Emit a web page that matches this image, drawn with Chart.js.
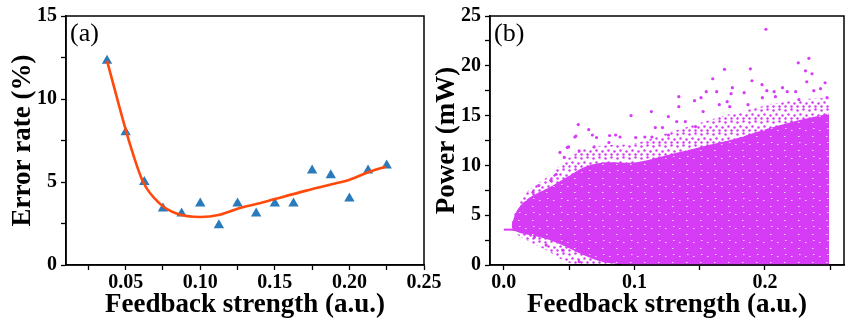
<!DOCTYPE html>
<html>
<head>
<meta charset="utf-8">
<script src="https://cdn.jsdelivr.net/npm/chart.js@4.4.1/dist/chart.umd.min.js"></script>
<style>
  html, body { margin: 0; padding: 0; background: #fff; }
  #wrap { position: relative; width: 848px; height: 322px; overflow: hidden; }
  #chartA { position: absolute; left: 0; top: 0; width: 460px; height: 322px; }
  #chartB { position: absolute; left: 424px; top: 0; width: 424px; height: 322px; }
</style>
</head>
<body>
<div id="wrap">
  <canvas id="chartA" width="460" height="322"></canvas>
  <canvas id="chartB" width="424" height="322"></canvas>
</div>
<script>
// ---- Datos panel (a): tasa de error ----
const fuerzaA = [0.0375, 0.05, 0.0625, 0.075, 0.0875, 0.1, 0.1125, 0.125, 0.1375, 0.15, 0.1625, 0.175, 0.1875, 0.2, 0.2125, 0.225];
const errorA  = [12.3, 8.0, 5.0, 3.4, 3.1, 3.7, 2.4, 3.7, 3.1, 3.7, 3.7, 5.7, 5.4, 4.0, 5.7, 6.0];
// curva de ajuste
const ajusteX = [0.0375, 0.0528, 0.0617, 0.0729, 0.0841, 0.1, 0.1131, 0.1265, 0.1399, 0.1488, 0.1711, 0.189, 0.2001, 0.2113, 0.2246];
const ajusteY = [12.3, 7.3, 5.0, 3.7, 3.1, 2.89, 3.03, 3.43, 3.72, 3.94, 4.48, 4.88, 5.14, 5.54, 5.94];

// ticks panel (a)
const majorXA = [0.05, 0.10, 0.15, 0.20, 0.25];
const labelsXA = ['0.05', '0.10', '0.15', '0.20', '0.25'];
const minorXA = [0.025, 0.075, 0.125, 0.175, 0.225];
const majorYA = [0, 5, 10, 15];
const labelsYA = ['0', '5', '10', '15'];
const minorYA = [2.5, 7.5, 12.5];

// ---- Datos panel (b): potencia ----
const colaX = [0, 0.012];
const colaY = [3.55, 3.55];
const bandaX    = [0.006, 0.009, 0.013, 0.02, 0.035, 0.048, 0.061, 0.076, 0.1, 0.124, 0.149, 0.175, 0.2, 0.225, 0.249];
const densoSup  = [4.0, 5.2, 6.0, 6.8, 7.8, 8.8, 9.8, 10.3, 10.3, 11.0, 11.8, 12.6, 13.6, 14.5, 15.2];
const densoInf  = [3.5, 3.4, 3.2, 3.0, 2.5, 1.8, 1.0, 0.3, 0, 0, 0, 0, 0, 0, 0];
const dispSup   = [4.2, 5.6, 6.6, 7.6, 9.0, 10.6, 11.6, 12.0, 12.2, 13.2, 14.2, 15.2, 16.0, 16.6, 16.8];
const dispInf   = [3.5, 3.2, 2.8, 2.3, 1.3, 0.3, 0, 0, 0, 0, 0, 0, 0, 0, 0];
const sueltosX = [0.2007, 0.2336, 0.2255, 0.169, 0.1888, 0.16, 0.19, 0.236, 0.231, 0.246, 0.1977, 0.134, 0.134, 0.113,
  0.151, 0.155, 0.163, 0.146, 0.175, 0.174, 0.184, 0.2014, 0.207, 0.2134, 0.217, 0.2235, 0.232, 0.2425, 0.2374,
  0.126, 0.1324, 0.1526, 0.165, 0.171, 0.173, 0.187, 0.198, 0.208, 0.2475, 0.226, 0.139, 0.1468, 0.116, 0.1215,
  0.0974, 0.081, 0.065, 0.057, 0.0544, 0.071, 0.089, 0.101, 0.108, 0.0486, 0.043, 0.0552, 0.0678, 0.0496, 0.0691,
  0.0268, 0.0223, 0.0805, 0.0856, 0.1134, 0.126, 0.0463, 0.0577, 0.04, 0.036, 0.0235, 0.0324, 0.045, 0.0577];
const sueltosY = [23.67, 20.75, 20.3, 19.65, 19.7, 18.7, 18.5, 19.2, 19.5, 18.3, 18.1, 16.9, 15.9, 15.4,
  16.8, 17.4, 17.4, 16.5, 17.8, 17.2, 17.3, 17.5, 17.4, 17.8, 17.4, 17.4, 18.4, 17.7, 17.5,
  14.9, 14.4, 15.4, 16.1, 16.4, 15.9, 16.1, 16.8, 16.9, 16.8, 16.6, 14.4, 13.9, 13.8, 13.8,
  15.0, 13.0, 13.6, 14.1, 12.85, 12.8, 12.85, 12.8, 12.85, 11.8, 11.3, 12.95, 13.05, 11.85, 11.85,
  7.97, 7.3, 12.3, 13.05, 12.85, 13.05, 10.8, 11.45, 9.1, 8.5, 2.8, 2.0, 1.5, 0.33];

// ticks panel (b)
const majorXB = [0.0, 0.1, 0.2];
const labelsXB = ['0.0', '0.1', '0.2'];
const minorXB = [0.05, 0.15, 0.25];
const majorYB = [0, 5, 10, 15, 20, 25];
const labelsYB = ['0', '5', '10', '15', '20', '25'];
const minorYB = [2.5, 7.5, 12.5, 17.5, 22.5];

// ---- Estilos ----
const FUENTE = "'Liberation Serif', 'Times New Roman', serif";
const azul = '#2a7bbb';
const naranja = '#ff4a0c';
const magenta = '#d63bf5';

const puntos = (xs, ys) => xs.map((x, i) => ({ x: x, y: ys[i] }));

const etiqueta = (mayores, textos) => (v) => {
  const i = mayores.findIndex(m => Math.abs(m - v) < 1e-6);
  return i >= 0 ? textos[i] : '';
};

// Texturas para imitar la nube de puntos (solo estilo de relleno)
const texturaDispersa = () => {
  const c = document.createElement('canvas');
  c.width = 12; c.height = 12;
  const g = c.getContext('2d');
  g.fillStyle = magenta;
  [[1, 2], [7, 1], [4, 6], [10, 7], [1, 10], [7, 10]].forEach(([px, py]) => {
    g.beginPath(); g.arc(px + 0.5, py + 0.5, 1.25, 0, Math.PI * 2); g.fill();
  });
  return g.createPattern(c, 'repeat');
};

const texturaDensa = () => {
  const c = document.createElement('canvas');
  c.width = 14; c.height = 14;
  const g = c.getContext('2d');
  g.fillStyle = magenta;
  g.fillRect(0, 0, 14, 14);
  g.fillStyle = '#f4dcfb';
  [[3, 4], [10, 10], [11, 2]].forEach(([px, py]) => g.fillRect(px, py, 1.5, 1));
  return g.createPattern(c, 'repeat');
};

const ejeX = (min, max, mayores, textos, menores, titulo) => ({
  type: 'linear',
  min: min,
  max: max,
  afterBuildTicks: (s) => { s.ticks = mayores.concat(menores).sort((a, b) => a - b).map(v => ({ value: v })); },
  afterFit: (s) => { s.height = 57; },
  ticks: {
    callback: etiqueta(mayores, textos),
    font: { family: FUENTE, size: 20, weight: 'bold' },
    color: '#000',
    padding: 1,
    maxRotation: 0,
    autoSkip: false
  },
  grid: { drawOnChartArea: false, tickLength: 5, tickColor: '#000', tickWidth: 1.3 },
  border: { color: '#000', width: 1.5 },
  title: {
    display: true,
    text: titulo,
    font: { family: FUENTE, size: 27, weight: 'bold' },
    color: '#000',
    padding: { top: 0, bottom: 1 }
  }
});

const ejeY = (min, max, mayores, textos, menores, titulo) => ({
  type: 'linear',
  min: min,
  max: max,
  afterBuildTicks: (s) => { s.ticks = mayores.concat(menores).sort((a, b) => a - b).map(v => ({ value: v })); },
  afterFit: (s) => { s.width = 66; },
  ticks: {
    callback: etiqueta(mayores, textos),
    font: { family: FUENTE, size: 20, weight: 'bold' },
    color: '#000',
    padding: 4,
    autoSkip: false
  },
  grid: { drawOnChartArea: false, tickLength: 5, tickColor: '#000', tickWidth: 1.3 },
  border: { color: '#000', width: 1.5 },
  title: {
    display: true,
    text: titulo,
    font: { family: FUENTE, size: 27, weight: 'bold' },
    color: '#000',
    padding: { top: 7, bottom: 0 }
  }
});

// Marco del area de trazado y rotulo del panel
const marcoPlugin = {
  id: 'marco',
  afterDatasetsDraw(chart, args, opts) {
    const { ctx, chartArea: { left, top, right, bottom } } = chart;
    ctx.save();
    ctx.strokeStyle = '#000';
    ctx.lineWidth = 1.5;
    ctx.strokeRect(left, top, right - left, bottom - top);
    ctx.fillStyle = '#000';
    ctx.font = '26px ' + FUENTE;
    ctx.textBaseline = 'top';
    ctx.fillText(opts.rotulo, left + 4, top + 5);
    ctx.restore();
  }
};

Chart.defaults.animation = false;

// Grafica (a)
new Chart(document.getElementById('chartA'), {
  type: 'scatter',
  data: {
    datasets: [{
      type: 'line',
      data: puntos(ajusteX, ajusteY),
      borderColor: naranja,
      borderWidth: 2.6,
      pointRadius: 0,
      cubicInterpolationMode: 'monotone',
      fill: false,
      order: 0
    }, {
      data: puntos(fuerzaA, errorA),
      pointStyle: 'triangle',
      pointRadius: 6,
      backgroundColor: azul,
      borderWidth: 0,
      order: 1
    }]
  },
  options: {
    responsive: false,
    layout: { padding: { top: 14, right: 36, left: 0, bottom: 0 } },
    plugins: { legend: { display: false }, tooltip: { enabled: false }, marco: { rotulo: '(a)' } },
    scales: {
      x: ejeX(0.01, 0.25, majorXA, labelsXA, minorXA, 'Feedback strength (a.u.)'),
      y: ejeY(0, 15, majorYA, labelsYA, minorYA, 'Error rate (%)')
    }
  },
  plugins: [marcoPlugin]
});

// Grafica (b)
const banda = (ys, relleno, color) => ({
  type: 'line',
  data: puntos(bandaX, ys),
  borderWidth: 0,
  pointRadius: 0,
  tension: 0.3,
  fill: relleno,
  backgroundColor: color,
  borderColor: 'rgba(0,0,0,0)'
});

new Chart(document.getElementById('chartB'), {
  type: 'scatter',
  data: {
    datasets: [
      Object.assign(banda(dispSup, '+1', texturaDispersa()), { order: 4 }),
      Object.assign(banda(dispInf, false, 'rgba(0,0,0,0)'), { order: 4 }),
      Object.assign(banda(densoSup, '+1', texturaDensa()), { order: 3 }),
      Object.assign(banda(densoInf, false, 'rgba(0,0,0,0)'), { order: 3 }),
      {
        data: puntos(sueltosX, sueltosY),
        pointRadius: 1.6,
        backgroundColor: magenta,
        borderWidth: 0,
        order: 2
      },
      {
        type: 'line',
        data: puntos(colaX, colaY),
        borderColor: magenta,
        borderWidth: 2,
        pointRadius: 0,
        fill: false,
        order: 1
      }
    ]
  },
  options: {
    responsive: false,
    layout: { padding: { top: 14, right: 1, left: 0, bottom: 0 } },
    plugins: { legend: { display: false }, tooltip: { enabled: false }, marco: { rotulo: '(b)' } },
    scales: {
      x: ejeX(-0.0106, 0.2605, majorXB, labelsXB, minorXB, 'Feedback strength (a.u.)'),
      y: ejeY(0, 25, majorYB, labelsYB, minorYB, 'Power (mW)')
    }
  },
  plugins: [marcoPlugin]
});
</script>
</body>
</html>
